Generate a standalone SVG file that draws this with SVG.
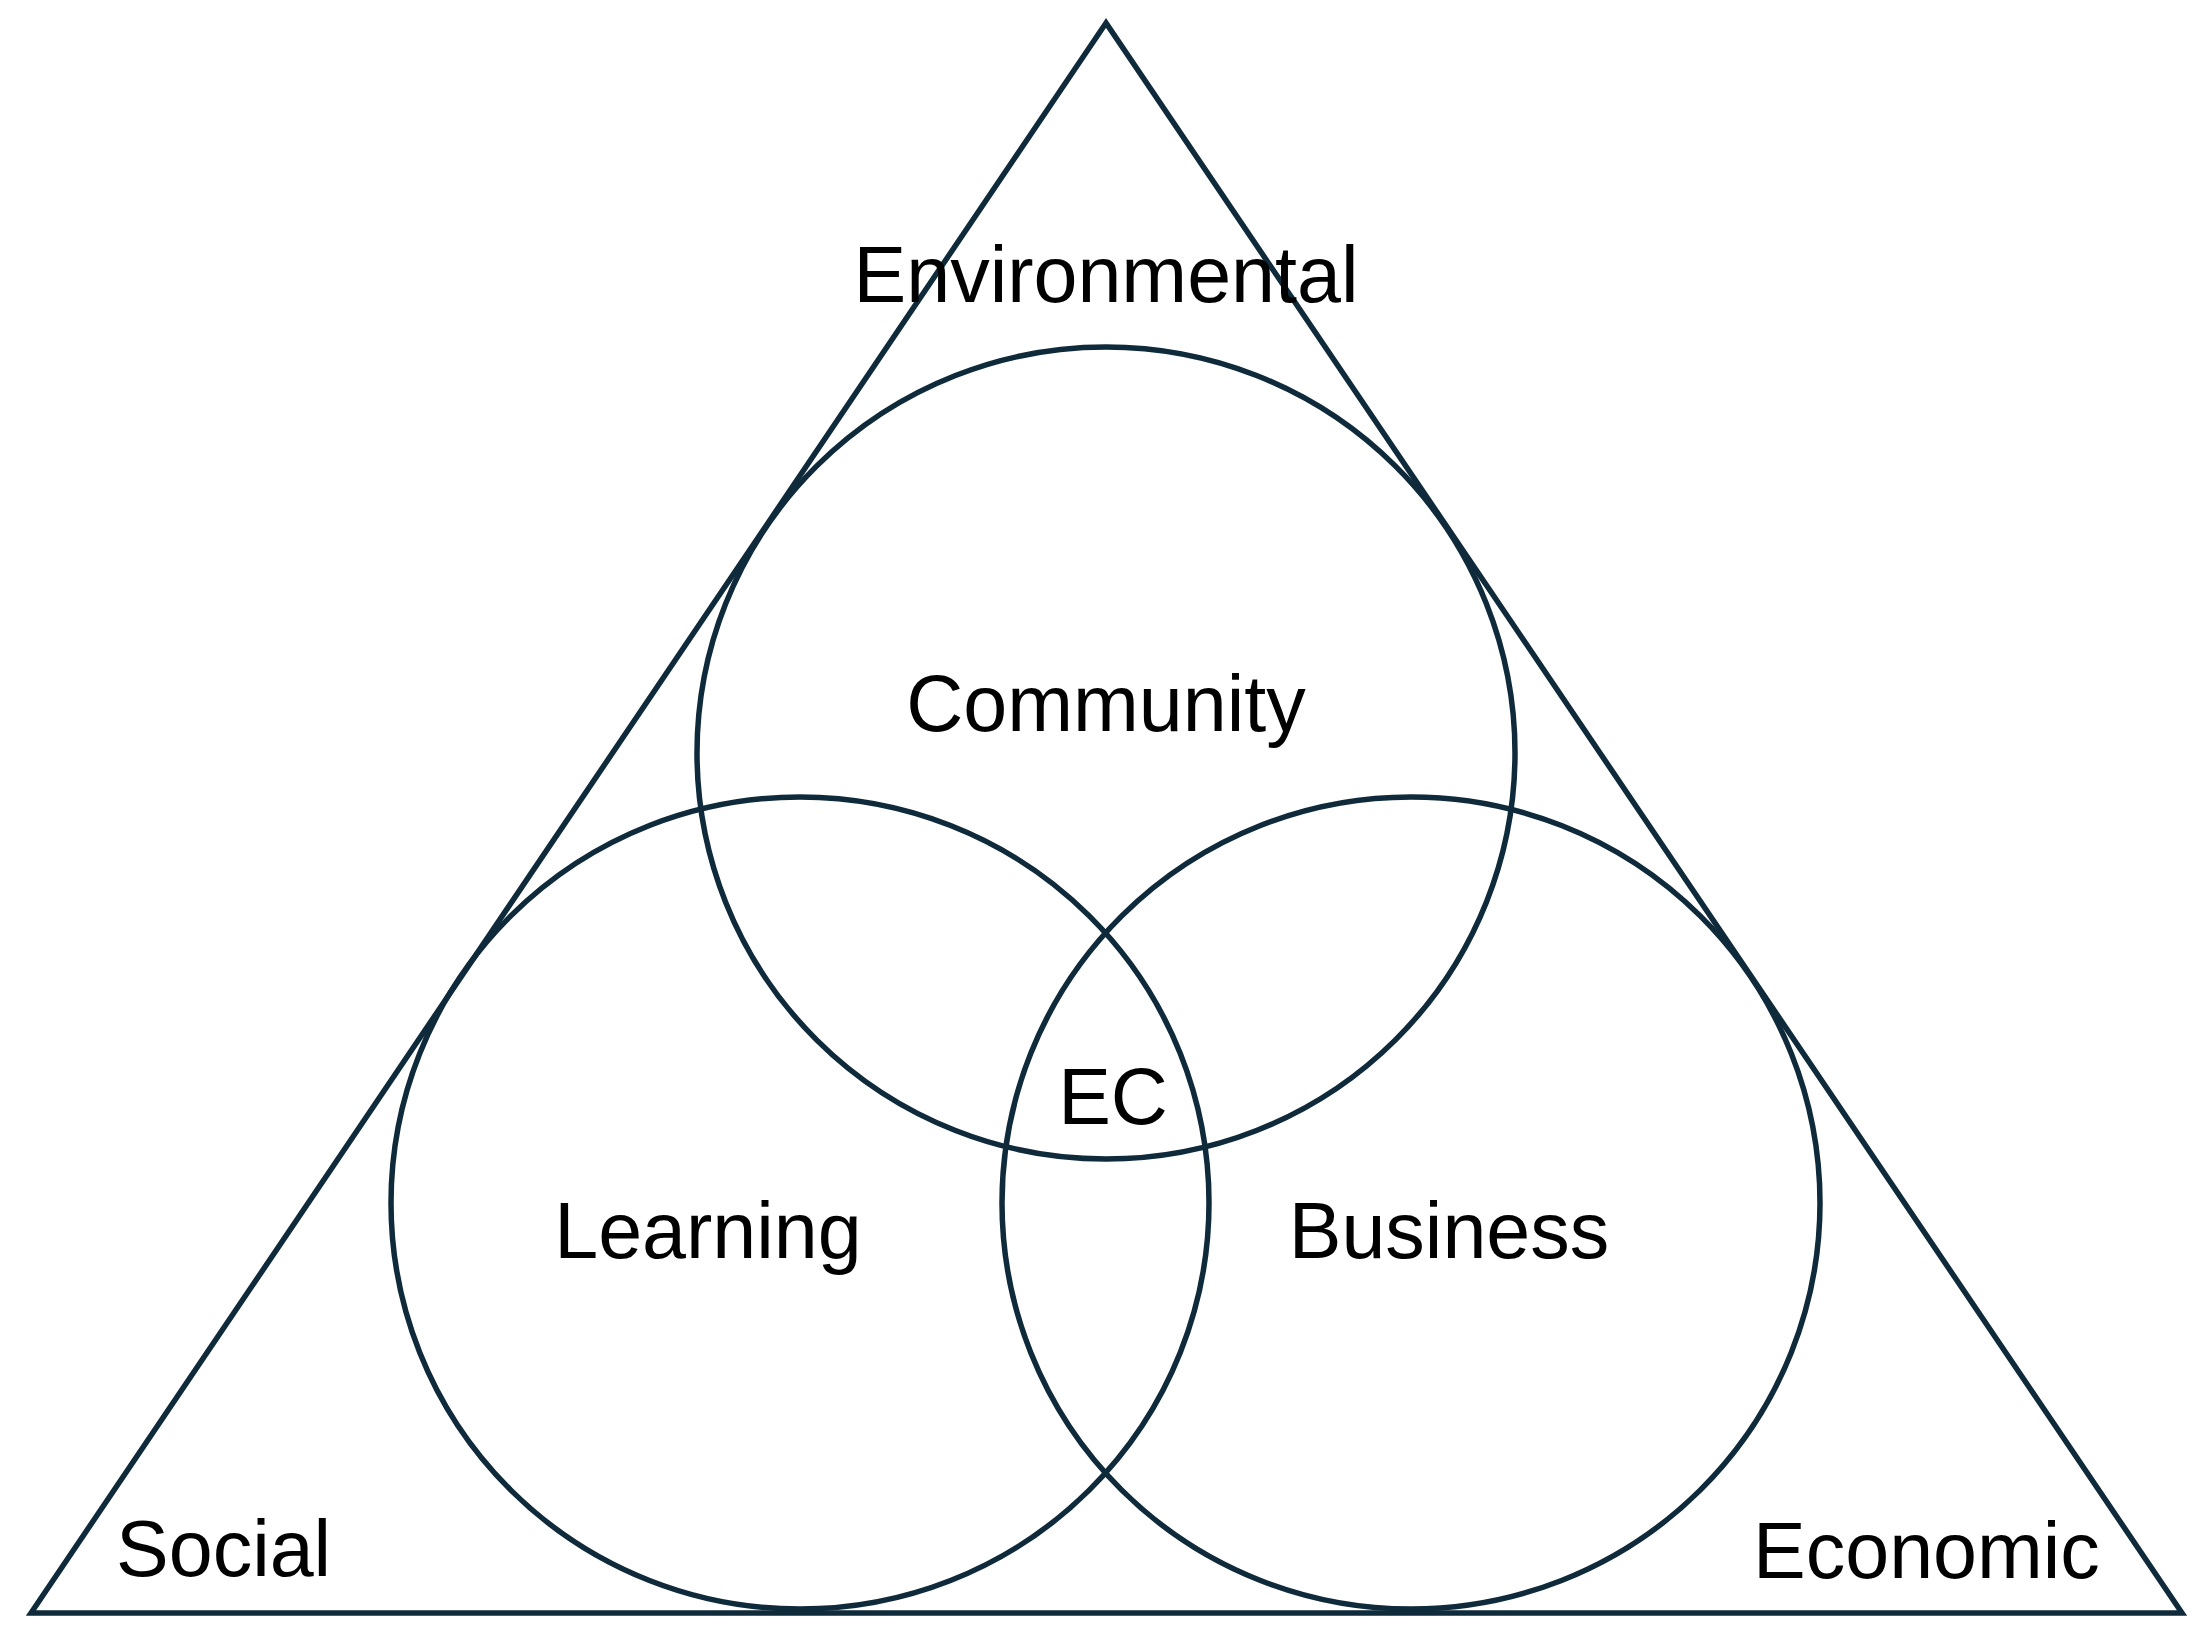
<svg xmlns="http://www.w3.org/2000/svg" width="2212" height="1652" viewBox="0 0 2212 1652">
<style>
.s{fill:none;stroke:#0f2a3a;stroke-width:5.5}
.t{font-family:"Liberation Sans",Arial,sans-serif;font-size:79px;fill:#000}
.c{text-anchor:middle}
</style>
<rect width="2212" height="1652" fill="#fff"/>
<g id="triangle"><polygon class="s" points="1106,23 31,1613 2182,1613"/></g>
<g id="community"><ellipse class="s" cx="1106" cy="753" rx="409" ry="406"/><text class="t c" x="1106" y="731">Community</text></g>
<g id="learning"><ellipse class="s" cx="800" cy="1203" rx="409" ry="406"/><text class="t c" x="708" y="1258">Learning</text></g>
<g id="business"><ellipse class="s" cx="1411" cy="1203" rx="409" ry="406"/><text class="t c" x="1449" y="1258">Business</text></g>
<g id="labels">
<text class="t c" x="1106" y="302">Environmental</text>
<text class="t c" x="1113" y="1124">EC</text>
<text class="t" x="116" y="1576">Social</text>
<text class="t" x="1753" y="1578">Economic</text>
</g>
<g id="connectors"/>
</svg>
